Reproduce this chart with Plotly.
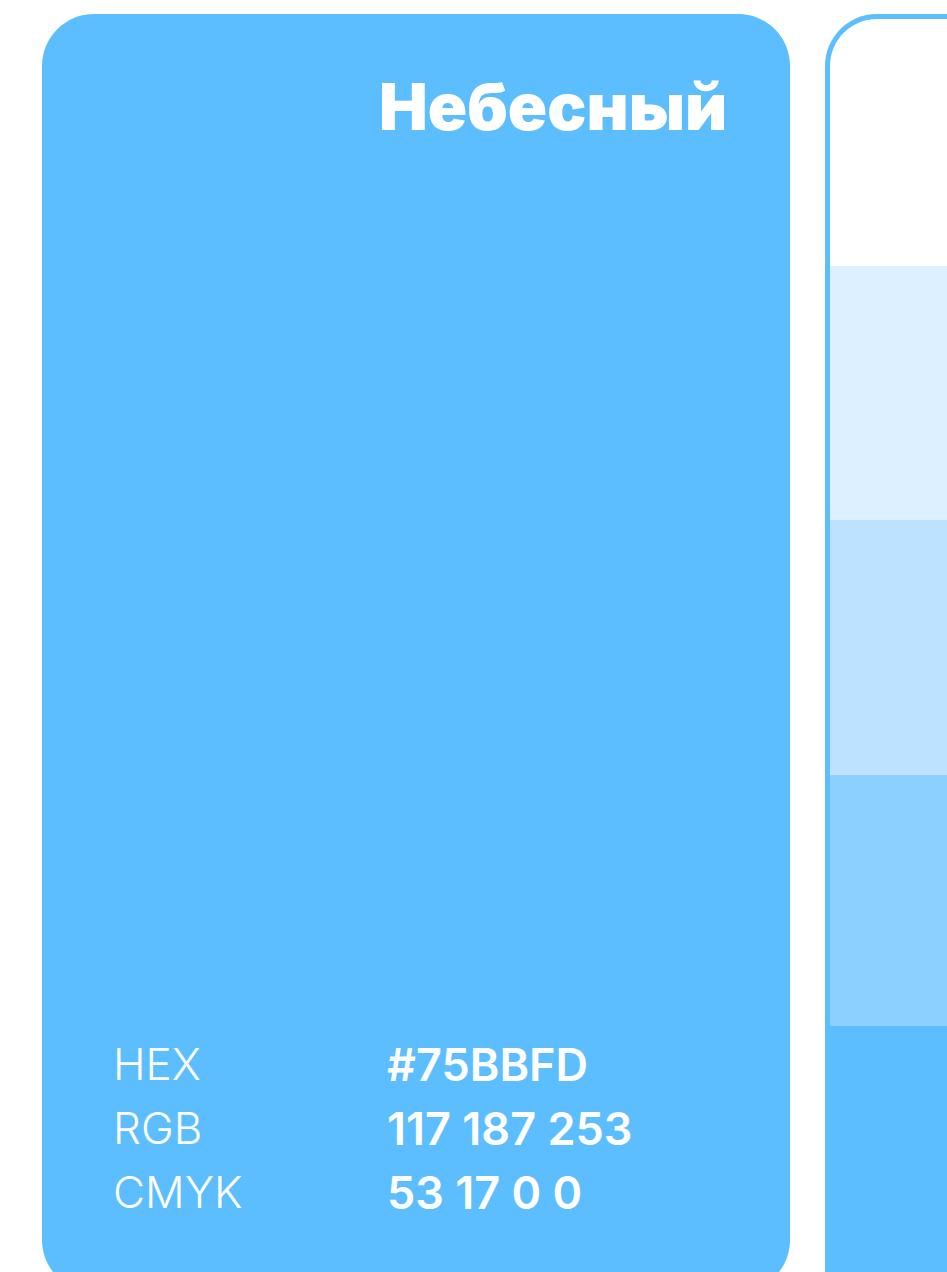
import plotly.graph_objects as go

# swatch data
color_name = "Небесный"
base_color = "#5CBDFF"
label_names = ["HEX", "RGB", "CMYK"]
label_values = ["#75BBFD", "117 187 253", "53 17 0 0"]
tint_colors = ["#FFFFFF", "#DDF0FF", "#BDE2FF", "#8CD0FF", "#5CBDFF"]
tint_edges = [19, 266, 520, 775, 1026, 1300]

W, H = 947, 1272
K = 0.5523


def round_rect(x0, y0, x1, y1, r):
    # rounded rectangle as svg path (y grows downward)
    c = r * (1 - K)
    return (f"M{x0 + r},{y0} L{x1 - r},{y0} "
            f"C{x1 - c},{y0} {x1},{y0 + c} {x1},{y0 + r} "
            f"L{x1},{y1 - r} "
            f"C{x1},{y1 - c} {x1 - c},{y1} {x1 - r},{y1} "
            f"L{x0 + r},{y1} "
            f"C{x0 + c},{y1} {x0},{y1 - c} {x0},{y1 - r} "
            f"L{x0},{y0 + r} "
            f"C{x0},{y0 + c} {x0 + c},{y0} {x0 + r},{y0} Z")


shapes = []
# left card
shapes.append(dict(type="path", path=round_rect(42, 14, 790, 1292, 52),
                   fillcolor=base_color, line=dict(width=0), layer="below"))
# right card: outline + inner white + tints
shapes.append(dict(type="path", path=round_rect(825, 14, 1573, 1292, 52),
                   fillcolor=base_color, line=dict(width=0), layer="below"))
shapes.append(dict(type="path", path=round_rect(830, 19, 1568, 1100, 47),
                   fillcolor="#FFFFFF", line=dict(width=0), layer="below"))
for i, col in enumerate(tint_colors[1:], start=1):
    x0 = 830 if i < len(tint_colors) - 1 else 825
    shapes.append(dict(type="rect", x0=x0, x1=980, y0=tint_edges[i], y1=tint_edges[i + 1],
                       fillcolor=col, line=dict(width=0), layer="below"))

annotations = [dict(x=729, y=106, xref="x", yref="y", text=color_name, showarrow=False,
                    xanchor="right", yanchor="middle",
                    font=dict(family="Inter", size=65, color="white", weight=900))]
row_y = [1064, 1128, 1192]
for name, val, y in zip(label_names, label_values, row_y):
    annotations.append(dict(x=111, y=y, xref="x", yref="y", text=name, showarrow=False,
                            xanchor="left", yanchor="middle",
                            font=dict(family="Inter", size=44, color="white", weight=300)))
    annotations.append(dict(x=385, y=y, xref="x", yref="y", text=val, showarrow=False,
                            xanchor="left", yanchor="middle",
                            font=dict(family="Inter", size=45, color="white", weight=600)))

fig = go.Figure()
fig.update_layout(width=W, height=H, margin=dict(l=0, r=0, t=0, b=0),
                  paper_bgcolor="white", plot_bgcolor="white",
                  xaxis=dict(range=[0, W], visible=False, fixedrange=True),
                  yaxis=dict(range=[H, 0], visible=False, fixedrange=True),
                  shapes=shapes, annotations=annotations, showlegend=False)
fig.write_html("out.html", config={"displayModeBar": False},
               post_script="document.body.style.margin='0';document.body.style.overflow='hidden';")
